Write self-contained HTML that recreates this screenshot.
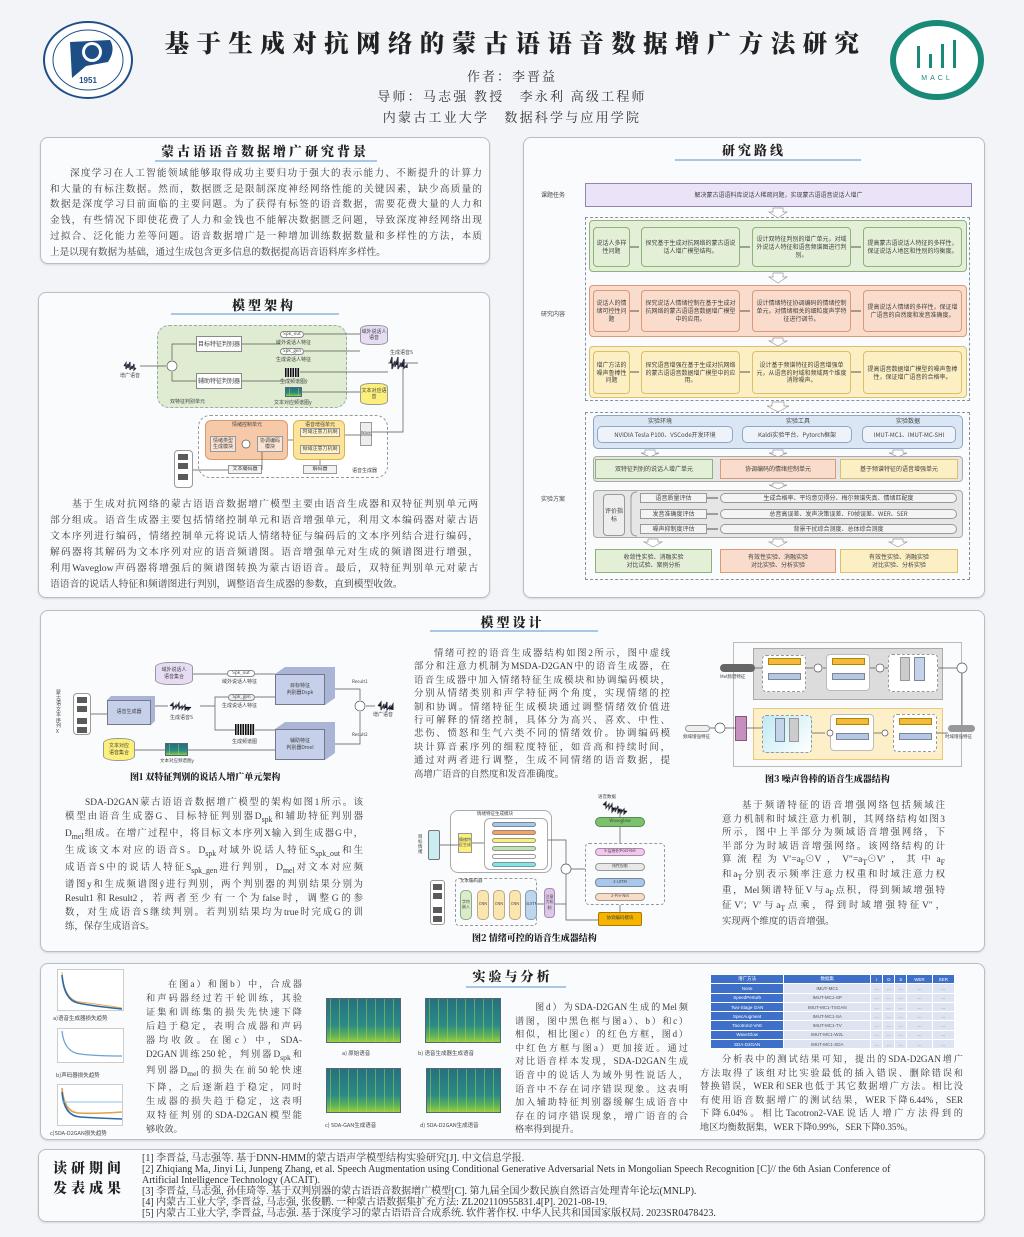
<!DOCTYPE html>
<html><head><meta charset="utf-8">
<style>
*{margin:0;padding:0;box-sizing:border-box}
body{width:1024px;height:1237px;background:#f2f4f8;position:relative;overflow:hidden;font-family:"Liberation Serif","Noto Serif CJK SC",serif;color:#333}
.a{position:absolute}
.panel{position:absolute;border:1px solid #b9bdc6;border-radius:8px;background:#fafbfd;box-shadow:0 1px 2px rgba(0,0,0,.12)}
.ttl{position:absolute;font-family:"Noto Serif CJK SC",serif;font-weight:900;font-size:13px;letter-spacing:3px;color:#222;text-align:center;white-space:nowrap}
.ul{position:absolute;height:2px;background:#a9c6e4}
.para{position:absolute;font-family:"Liberation Serif","Noto Serif CJK SC",serif;font-size:9.6px;color:#3a3a3a}
.para div{white-space:nowrap;text-align:justify;text-align-last:justify;overflow:hidden}
.para div.l{text-align-last:left}
.b{position:absolute;display:flex;align-items:center;justify-content:center;text-align:center;font-size:6px;line-height:1.3;overflow:hidden;color:#444;font-family:"Noto Sans CJK SC",sans-serif}
.lbl{position:absolute;font-size:6px;color:#444;font-family:"Noto Sans CJK SC",sans-serif;white-space:nowrap}
.cap{position:absolute;font-family:"Noto Serif CJK SC",serif;font-weight:900;font-size:9px;color:#222;white-space:nowrap}
.spec{position:absolute;background:
repeating-linear-gradient(90deg,rgba(0,0,0,0) 0 3px,rgba(190,220,60,.45) 3px 4px,rgba(0,0,0,0) 4px 9px),
linear-gradient(0deg,#9ccf40 0,#5fb25a 15%,#2a8a86 40%,#25707f 100%);border:1px solid #567}
.plot{position:absolute;background:#fff;border:1px solid #ccc}
table{border-collapse:collapse;font-size:4.5px;font-family:"Liberation Sans",sans-serif}
td{border:1px solid #fff;height:9.3px;text-align:center;color:#555;background:#dde3f1}
td.h{background:#3e6fc9;color:#fff}
.refs div{height:11px;line-height:11px;white-space:nowrap}
</style></head><body>

<svg class="a" style="left:0;top:0" width="1024" height="130">
 <ellipse cx="88" cy="60" rx="44" ry="38" fill="#fff" stroke="#1d4f86" stroke-width="2"/>
 <ellipse cx="88" cy="60" rx="35" ry="30" fill="none" stroke="#1d4f86" stroke-width="1"/>
 <path d="M70 42 L110 40 Q116 50 108 62 L86 66 L72 78 Z" fill="#1d4f86"/>
 <circle cx="92" cy="52" r="10" fill="#fff"/><circle cx="92" cy="52" r="7" fill="#1d4f86"/>
 <text x="88" y="83" font-size="8" font-weight="bold" text-anchor="middle" fill="#1d4f86" font-family="Liberation Sans">1951</text>
 <ellipse cx="937" cy="60" rx="44" ry="37" fill="#fff" stroke="#1a8a78" stroke-width="6"/>
 <g fill="#1a8a78"><rect x="917" y="46" width="3" height="22"/><rect x="929" y="54" width="3" height="14"/><rect x="941" y="44" width="3" height="24"/><rect x="953" y="40" width="3" height="28"/></g>
 <text x="937" y="80" font-size="7" text-anchor="middle" fill="#1a8a78" font-family="Liberation Sans" letter-spacing="3">MACL</text>
</svg>
<div class="a" style="left:0;width:1024px;top:25px;text-align:center;font-family:'Noto Serif CJK SC',serif;font-weight:900;font-size:24.5px;letter-spacing:7.4px;color:#222;padding-left:7px">基于生成对抗网络的蒙古语语音数据增广方法研究</div>
<div class="a" style="left:0;width:1024px;top:66px;text-align:center;font-size:13px;letter-spacing:2px;font-family:'Noto Serif CJK SC',serif;color:#333">作者：李晋益</div>
<div class="a" style="left:0;width:1024px;top:86px;text-align:center;font-size:13px;letter-spacing:2.2px;font-family:'Noto Serif CJK SC',serif;color:#333">导师：马志强 教授　李永利 高级工程师</div>
<div class="a" style="left:0;width:1024px;top:107px;text-align:center;font-size:13px;letter-spacing:2.2px;font-family:'Noto Serif CJK SC',serif;color:#333">内蒙古工业大学　数据科学与应用学院</div>

<div class="panel" style="left:40px;top:137px;width:450px;height:127px"></div>
<div class="ttl" style="left:40px;width:450px;top:141px">蒙古语语音数据增广研究背景</div>
<div class="ul" style="left:155px;top:160px;width:222px"></div>
<div class="para" style="left:50px;top:166px;width:432px;line-height:15.7px">
<div style="padding-left:20px">深度学习在人工智能领域能够取得成功主要归功于强大的表示能力、不断提升的计算力</div>
<div>和大量的有标注数据。然而，数据匮乏是限制深度神经网络性能的关键因素，缺少高质量的</div>
<div>数据是深度学习目前面临的主要问题。为了获得有标签的语音数据，需要花费大量的人力和</div>
<div>金钱，有些情况下即使花费了人力和金钱也不能解决数据匮乏问题，导致深度神经网络出现</div>
<div>过拟合、泛化能力差等问题。语音数据增广是一种增加训练数据数量和多样性的方法，本质</div>
<div class="l">上是以现有数据为基础，通过生成包含更多信息的数据提高语音语料库多样性。</div>
</div>

<div class="panel" style="left:38px;top:292px;width:452px;height:306px"></div>
<div class="ttl" style="left:38px;width:452px;top:295px">模型架构</div>
<div class="ul" style="left:171px;top:313px;width:168px"></div>
<div class="a" style="left:157px;top:325px;width:190px;height:83px;border:1px dashed #9aa;border-radius:12px;background:#dfecd2"></div>
<div class="b" style="left:196px;top:336px;width:46px;height:16px;background:#fff;border:1px solid #888">目标特征判别器</div>
<div class="b" style="left:196px;top:373px;width:46px;height:16px;background:#fff;border:1px solid #888">辅助特征判别器</div>
<div class="b" style="left:280px;top:331px;width:24px;height:7px;background:#fff;border:1px solid #888;border-radius:4px;font-size:4.5px">Spk_out</div>
<div class="lbl" style="left:276px;top:339px;font-size:5px">域外说话人特征</div>
<div class="b" style="left:280px;top:348px;width:24px;height:7px;background:#fff;border:1px solid #888;border-radius:4px;font-size:4.5px">Spk_gen</div>
<div class="lbl" style="left:276px;top:356px;font-size:5px">生成说话人特征</div>
<div class="a" style="left:285px;top:368px;width:15px;height:9px;background:repeating-linear-gradient(90deg,#111 0 1.5px,#ddd 1.5px 2.5px)"></div>
<div class="lbl" style="left:280px;top:378px;font-size:5px">生成频谱图ŷ</div>
<div class="spec" style="left:285px;top:387px;width:17px;height:10px"></div>
<div class="lbl" style="left:274px;top:399px;font-size:5px">文本对应频谱图y</div>
<div class="b" style="left:360px;top:325px;width:28px;height:20px;background:#e6dcf3;border:1px solid #999;border-radius:10px/4px;font-size:5px">域外说话人语音</div>
<div class="b" style="left:360px;top:383px;width:28px;height:22px;background:#fdf07a;border:1px solid #999;border-radius:10px/4px;font-size:5px">文本对应语音</div>
<div class="lbl" style="left:170px;top:398px;font-size:5px">双特征判别单元</div>
<div class="lbl" style="left:120px;top:372px;font-size:5px">增广语音</div>
<div class="lbl" style="left:390px;top:349px;font-size:5px">生成语音S</div>
<div class="a" style="left:198px;top:415px;width:190px;height:63px;border:1px dashed #999;border-radius:12px;background:#fff"></div>
<div class="a" style="left:205px;top:420px;width:83px;height:40px;background:#f6c9a8;border:1px solid #d79a70;border-radius:6px"></div>
<div class="lbl" style="left:232px;top:421px;font-size:5px">情绪控制单元</div>
<div class="b" style="left:210px;top:436px;width:26px;height:16px;background:#fbe3d3;border:1px solid #999;font-size:5px">情绪类型生成模块</div>
<div class="b" style="left:257px;top:436px;width:26px;height:16px;background:#fbe3d3;border:1px solid #999;font-size:5px">协调编码模块</div>
<div class="a" style="left:293px;top:420px;width:52px;height:40px;background:#fde49a;border:1px solid #d7b552;border-radius:6px"></div>
<div class="lbl" style="left:305px;top:421px;font-size:5px">语音增强单元</div>
<div class="b" style="left:300px;top:428px;width:40px;height:9px;background:#fff4cc;border:1px solid #999;font-size:5px">时域注意力机制</div>
<div class="b" style="left:300px;top:445px;width:40px;height:9px;background:#fff4cc;border:1px solid #999;font-size:5px">频域注意力机制</div>
<div class="b" style="left:360px;top:422px;width:12px;height:24px;background:#eee;border:1px solid #999;font-size:4px">Wave</div>
<div class="b" style="left:228px;top:465px;width:34px;height:9px;background:#f3f3f3;border:1px solid #999;font-size:5px">文本编码器</div>
<div class="b" style="left:303px;top:465px;width:34px;height:9px;background:#f3f3f3;border:1px solid #999;font-size:5px">解码器</div>
<div class="lbl" style="left:352px;top:467px;font-size:5px">语音生成器</div>
<div class="a" style="left:174px;top:450px;width:19px;height:38px;border:1px solid #999;border-radius:4px;background:#fff"></div>
<svg class="a" style="left:0;top:0" width="1024" height="1237">
 <g stroke="#555" stroke-width="0.7" fill="none">
  <path d="M140 366 H166 M172 360 V344 H196 M172 372 V381 H196 M242 344 H280 M242 381 H285 M304 334 H360 M304 351 H360 M300 372 H388 M302 392 H360 M388 363 H418 M403 366 V432 H372"/>
  <path d="M193 470 H228 M262 470 V452 M320 465 V460 M372 435 H345 M288 440 H293"/>
  <circle cx="172" cy="366" r="5" fill="#fff"/><circle cx="246" cy="444" r="4" fill="#fff"/>
 </g>
 <g stroke="#334" stroke-width="1.2"><path d="M124 366 l2 -3 v6 l2 -5 v4 l2 -6 v8 l2 -4 v3 l2 -5 v6 l2 -2 M390 363 l2 -6 v12 l3 -8 v6 l3 -10 v12 l3 -6 v4 l3 -8 v9 l3 -3 v3"/></g>
 <g fill="#5a5a5a"><rect x="178" y="454" width="10" height="6"/><rect x="178" y="463" width="10" height="6"/><rect x="178" y="474" width="10" height="6"/></g>
</svg>
<div class="para" style="left:50px;top:497px;width:428px;line-height:16px;font-size:9.8px">
<div style="padding-left:22px">基于生成对抗网络的蒙古语语音数据增广模型主要由语音生成器和双特征判别单元两</div>
<div>部分组成。语音生成器主要包括情绪控制单元和语音增强单元，利用文本编码器对蒙古语</div>
<div>文本序列进行编码，情绪控制单元将说话人情绪特征与编码后的文本序列结合进行编码，</div>
<div>解码器将其解码为文本序列对应的语音频谱图。语音增强单元对生成的频谱图进行增强，</div>
<div>利用Waveglow声码器将增强后的频谱图转换为蒙古语语音。最后，双特征判别单元对蒙古</div>
<div class="l">语语音的说话人特征和频谱图进行判别，调整语音生成器的参数，直到模型收敛。</div>
</div>

<div class="panel" style="left:523px;top:137px;width:462px;height:461px"></div>
<div class="ttl" style="left:523px;width:462px;top:140px">研究路线</div>
<div class="ul" style="left:675px;top:159px;width:186px"></div>
<div class="lbl" style="left:541px;top:190px">课题任务</div>
<div class="lbl" style="left:541px;top:309px">研究内容</div>
<div class="lbl" style="left:541px;top:494px">实验方案</div>
<div class="b" style="left:585px;top:183px;width:387px;height:24px;background:#ebe3f7;border:1px solid #8f86b0">解决蒙古语语料库说话人稀疏问题，实现蒙古语语音说话人增广</div>
<div class="a" style="left:585px;top:217px;width:385px;height:184px;border:1px dashed #8890a0"></div>
<div class="a" style="left:589px;top:220px;width:378px;height:52px;background:#e3efd7;border:1px solid #8fb27a;border-radius:4px"></div>
<div class="b" style="left:593px;top:227px;width:37px;height:40px;background:#e3efd7;border:1px solid #8fb27a;border-radius:4px">说话人多样性问题</div>
<div class="b" style="left:641px;top:227px;width:99px;height:40px;background:#e3efd7;border:1px solid #8fb27a;border-radius:4px;padding:2px">探究基于生成对抗网络的蒙古语说话人增广模型结构。</div>
<div class="b" style="left:752px;top:227px;width:99px;height:40px;background:#e3efd7;border:1px solid #8fb27a;border-radius:4px;padding:2px">设计双特征判别的增广单元，对域外说话人特征和语音频谱图进行判别。</div>
<div class="b" style="left:863px;top:227px;width:99px;height:40px;background:#e3efd7;border:1px solid #8fb27a;border-radius:4px;padding:2px">提高蒙古语说话人特征的多样性，保证说话人地区和性别的均衡度。</div>
<div class="a" style="left:589px;top:285px;width:378px;height:52px;background:#f9dccb;border:1px solid #d89a7a;border-radius:4px"></div>
<div class="b" style="left:593px;top:290px;width:37px;height:42px;background:#f9dccb;border:1px solid #d89a7a;border-radius:4px">说话人的情绪可控性问题</div>
<div class="b" style="left:641px;top:290px;width:99px;height:42px;background:#f9dccb;border:1px solid #d89a7a;border-radius:4px;padding:2px">探究说话人情绪控制在基于生成对抗网络的蒙古语语音数据增广模型中的应用。</div>
<div class="b" style="left:752px;top:290px;width:99px;height:42px;background:#f9dccb;border:1px solid #d89a7a;border-radius:4px;padding:2px">设计情绪特征协调编码的情绪控制单元，对情绪相关的细粒度声学特征进行调节。</div>
<div class="b" style="left:863px;top:290px;width:99px;height:42px;background:#f9dccb;border:1px solid #d89a7a;border-radius:4px;padding:2px">提高说话人情绪的多样性，保证增广语音的自然度和发音准确度。</div>
<div class="a" style="left:589px;top:346px;width:378px;height:52px;background:#fcefc4;border:1px solid #d8c070;border-radius:4px"></div>
<div class="b" style="left:593px;top:351px;width:37px;height:43px;background:#fcefc4;border:1px solid #d8c070;border-radius:4px">增广方法的噪声鲁棒性问题</div>
<div class="b" style="left:641px;top:351px;width:99px;height:43px;background:#fcefc4;border:1px solid #d8c070;border-radius:4px;padding:2px">探究语音增强在基于生成对抗网络的蒙古语语音数据增广模型中的应用。</div>
<div class="b" style="left:752px;top:351px;width:99px;height:43px;background:#fcefc4;border:1px solid #d8c070;border-radius:4px;padding:2px">设计基于频谱特征的语音增强单元，从语音的时域和频域两个维度消除噪声。</div>
<div class="b" style="left:863px;top:351px;width:99px;height:43px;background:#fcefc4;border:1px solid #d8c070;border-radius:4px;padding:2px">提高语音数据增广模型的噪声鲁棒性，保证增广语音的合格率。</div>
<div class="a" style="left:585px;top:412px;width:385px;height:168px;border:1px dashed #8890a0"></div>
<div class="a" style="left:593px;top:415px;width:370px;height:34px;background:#dbe6f4;border:1px solid #8ea6c8;border-radius:5px"></div>
<div class="lbl" style="left:648px;top:416px">实验环境</div><div class="lbl" style="left:786px;top:416px">实验工具</div><div class="lbl" style="left:896px;top:416px">实验数据</div>
<div class="b" style="left:597px;top:426px;width:136px;height:17px;background:#eef3fa;border:1px solid #8ea6c8;border-radius:5px">NVIDIA Tesla P100、VSCode开发环境</div>
<div class="b" style="left:742px;top:426px;width:110px;height:17px;background:#eef3fa;border:1px solid #8ea6c8;border-radius:5px">Kaldi实验平台、Pytorch框架</div>
<div class="b" style="left:862px;top:426px;width:94px;height:17px;background:#eef3fa;border:1px solid #8ea6c8;border-radius:5px">IMUT-MC1、IMUT-MC-SHI</div>
<div class="a" style="left:593px;top:456px;width:370px;height:26px;background:#e6e6e6;border:1px solid #aaa;border-radius:4px"></div>
<div class="b" style="left:595px;top:459px;width:118px;height:20px;background:#e3efd7;border:1px solid #8fb27a">双特征判别的说话人增广单元</div>
<div class="b" style="left:720px;top:459px;width:116px;height:20px;background:#f9dccb;border:1px solid #d89a7a">协调编码的情绪控制单元</div>
<div class="b" style="left:840px;top:459px;width:118px;height:20px;background:#fcefc4;border:1px solid #d8c070">基于频谱特征的语音增强单元</div>
<div class="a" style="left:593px;top:490px;width:370px;height:48px;background:#e6e6e6;border:1px solid #aaa;border-radius:4px"></div>
<div class="b" style="left:603px;top:494px;width:22px;height:42px;background:#eee;border:1px solid #999;border-radius:4px">评价指标</div>
<div class="b" style="left:640px;top:493px;width:67px;height:10px;background:#f4f4f4;border:1px solid #999">语音质量评估</div>
<div class="b" style="left:640px;top:509px;width:67px;height:10px;background:#f4f4f4;border:1px solid #999">发音准确度评估</div>
<div class="b" style="left:640px;top:524px;width:67px;height:10px;background:#f4f4f4;border:1px solid #999">噪声抑制度评估</div>
<div class="b" style="left:720px;top:493px;width:237px;height:10px;background:#f4f4f4;border:1px solid #999;border-radius:5px">生成合格率、平均意见得分、梅尔频谱失真、情绪匹配度</div>
<div class="b" style="left:720px;top:509px;width:237px;height:10px;background:#f4f4f4;border:1px solid #999;border-radius:5px">总音高误差、发声决策误差、F0帧误差、WER、SER</div>
<div class="b" style="left:720px;top:524px;width:237px;height:10px;background:#f4f4f4;border:1px solid #999;border-radius:5px">背景干扰综合测度、总体综合测度</div>
<div class="b" style="left:595px;top:549px;width:117px;height:24px;background:#e3efd7;border:1px solid #8fb27a">收敛性实验、消融实验<br>对比试验、案例分析</div>
<div class="b" style="left:720px;top:549px;width:116px;height:24px;background:#f9dccb;border:1px solid #d89a7a">有效性实验、消融实验<br>对比实验、分析实验</div>
<div class="b" style="left:840px;top:549px;width:118px;height:24px;background:#fcefc4;border:1px solid #d8c070">有效性实验、消融实验<br>对比实验、分析实验</div>
<svg class="a" style="left:0;top:0" width="1024" height="1237">
 <g fill="#fff" stroke="#999" stroke-width="0.7">
  <path d="M773 208 h10 v4 h4 l-9 6 l-9 -6 h4z"/><path d="M773 273 h10 v4 h4 l-9 6 l-9 -6 h4z"/><path d="M773 338 h10 v3 h4 l-9 5 l-9 -5 h4z"/><path d="M772 402 h12 v4 h5 l-11 6 l-11 -6 h5z"/>
  <path d="M645 450 h10 v3 h4 l-9 4 l-9 -4 h4z"/><path d="M773 450 h10 v3 h4 l-9 4 l-9 -4 h4z"/><path d="M893 450 h10 v3 h4 l-9 4 l-9 -4 h4z"/>
  <path d="M773 483 h10 v2 h4 l-9 4 l-9 -4 h4z"/>
  <path d="M648 539 h10 v3 h4 l-9 5 l-9 -5 h4z"/><path d="M773 539 h10 v3 h4 l-9 5 l-9 -5 h4z"/><path d="M893 539 h10 v3 h4 l-9 5 l-9 -5 h4z"/>
 </g>
 <g stroke="#222" stroke-width="0.8" fill="#222">
  <path d="M630 247 h9 M740 247 h10 M851 247 h10 M630 311 h9 M740 311 h10 M851 311 h10 M630 372 h9 M740 372 h10 M851 372 h10 M707 498 h11 M707 514 h11 M707 529 h11"/>
 </g>
 <path d="M637 492 q-6 0 -6 6 v32 q0 6 6 6" fill="none" stroke="#999"/>
</svg>

<div class="panel" style="left:40px;top:610px;width:945px;height:342px"></div>
<div class="ttl" style="left:40px;width:945px;top:612px">模型设计</div>
<div class="ul" style="left:430px;top:630px;width:168px"></div>
<div class="b" style="left:155px;top:662px;width:38px;height:23px;background:#e6dcf3;border:1px solid #999;border-radius:14px/5px;font-size:5px">域外说话人<br>语音集合</div>
<div class="a" style="left:73px;top:693px;width:18px;height:42px;border:1px solid #999;border-radius:4px;background:#fff"></div>
<div class="lbl" style="left:56px;top:690px;width:6px;font-size:5px;white-space:normal;line-height:1.1">蒙古语文本序列X</div>
<div class="b" style="left:107px;top:700px;width:44px;height:25px;background:#c7d0ea;border:1px solid #778;font-size:5px">语音生成器</div>
<div class="b" style="left:227px;top:670px;width:28px;height:7px;background:#fff;border:1px solid #888;border-radius:4px;font-size:4.5px">Spk_out</div>
<div class="lbl" style="left:222px;top:678px;font-size:5px">域外说话人特征</div>
<div class="b" style="left:228px;top:694px;width:27px;height:7px;background:#eee;border:1px solid #888;border-radius:4px;font-size:4.5px">Spk_gen</div>
<div class="lbl" style="left:222px;top:702px;font-size:5px">生成说话人特征</div>
<div class="a" style="left:235px;top:724px;width:20px;height:11px;background:repeating-linear-gradient(90deg,#111 0 1.5px,#ddd 1.5px 2.5px)"></div>
<div class="lbl" style="left:232px;top:738px;font-size:5px">生成频谱图</div>
<div class="lbl" style="left:170px;top:714px;font-size:5px">生成语音S</div>
<div class="b" style="left:275px;top:674px;width:50px;height:31px;background:#c7d0ea;border:1px solid #778;font-size:5px">目标特征<br>判别器Dspk</div>
<div class="b" style="left:275px;top:729px;width:50px;height:31px;background:#c7d0ea;border:1px solid #778;font-size:5px">辅助特征<br>判别器Dmel</div>
<div class="b" style="left:103px;top:738px;width:32px;height:23px;background:#fdf07a;border:1px solid #999;border-radius:14px/5px;font-size:5px">文本对应<br>语音集合</div>
<div class="spec" style="left:165px;top:743px;width:23px;height:13px"></div>
<div class="lbl" style="left:160px;top:758px;font-size:4.5px">文本对应频谱图y</div>
<div class="lbl" style="left:352px;top:679px;font-size:4.5px">Result1</div>
<div class="lbl" style="left:352px;top:732px;font-size:4.5px">Result2</div>
<div class="lbl" style="left:373px;top:711px;font-size:5px">增广语音</div>
<div class="cap" style="left:130px;top:770px">图1 双特征判别的说话人增广单元架构</div>
<div class="a" style="left:450px;top:810px;width:102px;height:63px;border:1px solid #aaa;border-radius:8px;background:#fff"></div>
<div class="lbl" style="left:477px;top:811px;font-size:4.5px">情绪特征生成模块</div>
<div class="a" style="left:428px;top:830px;width:12px;height:30px;background:#c9ecf2;border:1px solid #777;border-radius:2px"></div>
<div class="lbl" style="left:418px;top:835px;width:6px;font-size:4.5px;white-space:normal;line-height:1.1">目标情绪</div>
<div class="b" style="left:458px;top:833px;width:14px;height:20px;background:#fdf07a;border:1px solid #999;font-size:4px">情绪特征生成</div>
<div class="a" style="left:484px;top:818px;width:64px;height:52px;border:1px solid #aaa;border-radius:6px"></div>
<div class="a" style="left:492px;top:822px;width:44px;height:5px;background:#a9c7ea;border:1px solid #789;border-radius:3px"></div>
<div class="a" style="left:492px;top:830px;width:44px;height:5px;background:#f1a36c;border:1px solid #987;border-radius:3px"></div>
<div class="a" style="left:492px;top:838px;width:44px;height:5px;background:#f9ef7a;border:1px solid #998;border-radius:3px"></div>
<div class="a" style="left:492px;top:846px;width:44px;height:5px;background:#c3e1b2;border:1px solid #898;border-radius:3px"></div>
<div class="a" style="left:492px;top:854px;width:44px;height:5px;background:#fff;border:1px solid #999;border-radius:3px"></div>
<div class="a" style="left:492px;top:862px;width:44px;height:5px;background:#7fe5e8;border:1px solid #799;border-radius:3px"></div>
<div class="a" style="left:455px;top:878px;width:82px;height:48px;border:1px dashed #999;border-radius:4px"></div>
<div class="lbl" style="left:460px;top:878px;font-size:4.5px">文本编码器</div>
<div class="b" style="left:460px;top:890px;width:12px;height:30px;background:#dcecc9;border:1px solid #8a8;border-radius:5px;font-size:4px">字符嵌入</div>
<div class="b" style="left:477px;top:890px;width:12px;height:30px;background:#fbe6b0;border:1px solid #ba8;border-radius:5px;font-size:4px">CNN</div>
<div class="b" style="left:493px;top:890px;width:12px;height:30px;background:#fbe6b0;border:1px solid #ba8;border-radius:5px;font-size:4px">CNN</div>
<div class="b" style="left:509px;top:890px;width:12px;height:30px;background:#fbe6b0;border:1px solid #ba8;border-radius:5px;font-size:4px">CNN</div>
<div class="b" style="left:525px;top:890px;width:12px;height:30px;background:#bcd6ee;border:1px solid #89a;border-radius:5px;font-size:4px">BiLSTM</div>
<div class="b" style="left:544px;top:888px;width:11px;height:30px;background:#dcc8e6;border:1px solid #a8b;border-radius:4px;font-size:4px">注意力机制</div>
<div class="a" style="left:430px;top:880px;width:15px;height:45px;border:1px solid #999;border-radius:3px;background:#fff"></div>
<div class="lbl" style="left:598px;top:794px;font-size:4.5px">语音数据</div>
<div class="b" style="left:595px;top:817px;width:50px;height:10px;background:#7cc26a;border:1px solid #585;border-radius:5px;font-size:4.5px">Waveglow</div>
<div class="a" style="left:585px;top:843px;width:80px;height:62px;border:1px dashed #999;border-radius:4px"></div>
<div class="b" style="left:595px;top:848px;width:50px;height:8px;background:#f3c6ee;border:1px solid #a8a;border-radius:4px;font-size:4px">5-层卷积Post-Net</div>
<div class="b" style="left:595px;top:863px;width:50px;height:8px;background:#e8e8e8;border:1px solid #999;border-radius:4px;font-size:4px">线性投影</div>
<div class="b" style="left:595px;top:878px;width:50px;height:9px;background:#a9c7ea;border:1px solid #789;border-radius:4px;font-size:4px">2-LSTM</div>
<div class="b" style="left:595px;top:893px;width:50px;height:8px;background:#f8dcc8;border:1px solid #a98;border-radius:4px;font-size:4px">2-Pre-Net</div>
<div class="b" style="left:598px;top:912px;width:44px;height:14px;background:#f6b400;border:1px solid #a70;border-radius:2px;font-size:4.5px">协调编码模块</div>
<div class="cap" style="left:472px;top:931px">图2 情绪可控的语音生成器结构</div>
<div class="a" style="left:733px;top:642px;width:229px;height:125px;border:1px solid #bbb"></div>
<div class="a" style="left:753px;top:648px;width:190px;height:52px;background:#dcdcdc;border:1px solid #aaa"></div>
<div class="a" style="left:762px;top:655px;width:44px;height:37px;background:#fff;border:1px dashed #999;border-radius:4px"></div>
<div class="a" style="left:768px;top:658px;width:33px;height:7px;background:#f6b93b;border:1px solid #a80"></div>
<div class="a" style="left:768px;top:673px;width:33px;height:7px;background:#b8c6e6;border:1px solid #789"></div>
<div class="a" style="left:826px;top:654px;width:44px;height:37px;background:#fff;border:1px solid #bbb;border-radius:4px"></div>
<div class="a" style="left:832px;top:658px;width:33px;height:7px;background:#f6b93b;border:1px solid #a80"></div>
<div class="a" style="left:832px;top:673px;width:33px;height:7px;background:#b8c6e6;border:1px solid #789"></div>
<div class="a" style="left:888px;top:654px;width:50px;height:38px;background:#fff;border:1px dashed #999;border-radius:4px"></div>
<div class="a" style="left:900px;top:657px;width:10px;height:24px;background:#ccc;border:1px solid #999"></div>
<div class="a" style="left:914px;top:657px;width:11px;height:24px;background:#c4d2ea;border:1px solid #789"></div>
<div class="a" style="left:720px;top:664px;width:35px;height:8px;background:#666;border-radius:4px"></div>
<div class="lbl" style="left:720px;top:674px;font-size:4.5px">Mel频谱特征</div>
<div class="a" style="left:753px;top:708px;width:190px;height:52px;background:#fdf0c8;border:1px solid #e6c880"></div>
<div class="a" style="left:762px;top:715px;width:50px;height:38px;background:linear-gradient(135deg,#bfeaf4,#fff);border:1px dashed #999;border-radius:4px"></div>
<div class="a" style="left:775px;top:718px;width:10px;height:24px;background:#c4d2ea;border:1px solid #789"></div>
<div class="a" style="left:789px;top:718px;width:10px;height:24px;background:#ccc;border:1px solid #999"></div>
<div class="a" style="left:830px;top:714px;width:44px;height:37px;background:#fff;border:1px solid #bbb;border-radius:4px"></div>
<div class="a" style="left:836px;top:718px;width:33px;height:7px;background:#f6b93b;border:1px solid #a80"></div>
<div class="a" style="left:836px;top:733px;width:33px;height:7px;background:#b8c6e6;border:1px solid #789"></div>
<div class="a" style="left:893px;top:714px;width:44px;height:38px;background:#fff;border:1px dashed #999;border-radius:4px"></div>
<div class="a" style="left:899px;top:718px;width:33px;height:7px;background:#f6b93b;border:1px solid #a80"></div>
<div class="a" style="left:899px;top:733px;width:33px;height:7px;background:#b8c6e6;border:1px solid #789"></div>
<div class="a" style="left:735px;top:716px;width:12px;height:25px;background:#c58fc0;border:1px solid #857"></div>
<div class="a" style="left:685px;top:725px;width:25px;height:7px;background:#eee;border:1px solid #999;border-radius:4px"></div>
<div class="lbl" style="left:683px;top:734px;font-size:4.5px">频域增强特征</div>
<div class="a" style="left:948px;top:725px;width:27px;height:7px;background:#999;border-radius:4px"></div>
<div class="lbl" style="left:945px;top:734px;font-size:4.5px">时域增强特征</div>
<div class="cap" style="left:765px;top:772px">图3 噪声鲁棒的语音生成器结构</div>
<svg class="a" style="left:0;top:0" width="1024" height="1237">
 <g stroke="#555" stroke-width="0.7" fill="none">
  <path d="M193 674 H227 M255 674 H275 M91 714 H107 M151 706 H168 M200 706 H215 V697 H228 M215 706 V730 H235 M255 697 H275 M255 730 H275 M135 750 H165 M188 750 H275 M325 689 H360 V700 M325 744 H360 V712 M366 706 H375"/>
  <circle cx="360" cy="706" r="5" fill="#fff"/>
  <path d="M440 845 H458 M472 843 H484 M548 840 H566 V864 M537 904 H544 M555 904 H566 V874 M566 874 V920 H598 M571 869 H585 M620 912 V905 M620 843 V827 M620 817 V808"/>
  <circle cx="566" cy="869" r="5" fill="#fff"/>
  <path d="M755 668 H762 M806 668 H813 M823 668 H826 M870 668 H875 M885 668 H888 M938 668 H957 M710 728 H715 M725 728 H735 M747 728 H762 M812 733 H825 M874 733 H888 M937 733 H948 M962 673 V725"/>
  <circle cx="818" cy="668" r="4" fill="#fff"/><circle cx="880" cy="668" r="4" fill="#fff"/><circle cx="962" cy="668" r="5" fill="#fff"/><circle cx="720" cy="728" r="5" fill="#fff"/><circle cx="830" cy="733" r="3" fill="#fff"/><circle cx="885" cy="733" r="3" fill="#fff"/>
 </g>
 <g stroke="#334" stroke-width="1.1"><path d="M170 706 l3 -3 v6 l3 -4 v3 l3 -5 v6 l3 -3 v3 l3 -4 v5 l3 -2 v2 l3 -3 M378 706 l3 -4 v8 l3 -6 v5 l3 -7 v8 l3 -4 v3 l3 -5 v6 M603 805 l3 -3 v6 l3 -4 v5 l3 -5 v8 l3 -4 v4 l3 -6 v7 l3 -3 v3 l3 -4 v5 l3 -3"/></g>
 <g fill="#5a5a5a"><rect x="77" y="697" width="10" height="6"/><rect x="77" y="706" width="10" height="6"/><rect x="77" y="718" width="10" height="6"/><rect x="77" y="727" width="10" height="6"/><rect x="433" y="884" width="9" height="6"/><rect x="433" y="893" width="9" height="6"/><rect x="433" y="907" width="9" height="6"/><rect x="433" y="916" width="9" height="6"/></g>
 <g fill="#aab4d6"><path d="M151 700 l4 -4 v25 l-4 4z M107 700 l4 -4 h44 l-4 4z M325 674 l10 -7 v31 l-10 7z M275 674 l10 -7 h50 l-10 7z M325 729 l10 -7 v31 l-10 7z M275 729 l10 -7 h50 l-10 7z"/></g>
</svg>
<div class="para" style="left:65px;top:796px;width:298px;line-height:14px;font-size:9.4px">
<div style="padding-left:20px">SDA-D2GAN蒙古语语音数据增广模型的架构如图1所示。该</div>
<div>模型由语音生成器G、目标特征判别器D<sub>spk</sub>和辅助特征判别器</div>
<div>D<sub>mel</sub>组成。在增广过程中，将目标文本序列X输入到生成器G中，</div>
<div>生成该文本对应的语音S。D<sub>spk</sub>对域外说话人特征S<sub>spk_out</sub>和生</div>
<div>成语音S中的说话人特征S<sub>spk_gen</sub>进行判别，D<sub>mel</sub>对文本对应频</div>
<div>谱图y和生成频谱图ŷ进行判别，两个判别器的判别结果分别为</div>
<div>Result1和Result2，若两者至少有一个为false时，调整G的参</div>
<div>数，对生成语音S继续判别。若判别结果均为true时完成G的训</div>
<div class="l">练，保存生成语音S。</div>
</div>
<div class="para" style="left:414px;top:648px;width:256px;line-height:13.4px;font-size:9.4px">
<div style="padding-left:20px">情绪可控的语音生成器结构如图2所示，图中虚线</div>
<div>部分和注意力机制为MSDA-D2GAN中的语音生成器，在</div>
<div>语音生成器中加入情绪特征生成模块和协调编码模块，</div>
<div>分别从情绪类别和声学特征两个角度，实现情绪的控</div>
<div>制和协调。情绪特征生成模块通过调整情绪效价值进</div>
<div>行可解释的情绪控制，具体分为高兴、喜欢、中性、</div>
<div>悲伤、愤怒和生气六类不同的情绪效价。协调编码模</div>
<div>块计算音素序列的细粒度特征，如音高和持续时间，</div>
<div>通过对两者进行调整，生成不同情绪的语音数据，提</div>
<div class="l">高增广语音的自然度和发音准确度。</div>
</div>
<div class="para" style="left:722px;top:800px;width:223px;line-height:13.5px;font-size:9.4px">
<div style="padding-left:20px">基于频谱特征的语音增强网络包括频域注</div>
<div>意力机制和时域注意力机制，其网络结构如图3</div>
<div>所示，图中上半部分为频域语音增强网络，下</div>
<div>半部分为时域语音增强网络。该网络结构的计</div>
<div>算流程为V′=a<sub>F</sub>⊙V，V″=a<sub>T</sub>⊙V′，其中a<sub>F</sub></div>
<div>和a<sub>T</sub>分别表示频率注意力权重和时域注意力权</div>
<div>重，Mel频谱特征V与a<sub>F</sub>点积，得到频域增强特</div>
<div>征V′；V′与a<sub>T</sub>点乘，得到时域增强特征V″，</div>
<div class="l">实现两个维度的语音增强。</div>
</div>

<div class="panel" style="left:40px;top:963px;width:945px;height:177px"></div>
<div class="ttl" style="left:40px;width:945px;top:966px">实验与分析</div>
<div class="ul" style="left:466px;top:986px;width:100px"></div>
<div class="plot" style="left:57px;top:969px;width:67px;height:42px"></div>
<div class="plot" style="left:57px;top:1028px;width:67px;height:35px"></div>
<div class="plot" style="left:57px;top:1084px;width:66px;height:42px"></div>
<svg class="a" style="left:0;top:0" width="1024" height="1237">
 <g fill="none" stroke-width="1">
  <path d="M62 972 Q64 1000 80 1002 T122 1008" stroke="#e8a94a"/><path d="M62 975 Q64 1000 78 1003 T122 1009" stroke="#2f6aa8" stroke-width="1.6"/>
  <path d="M62 1031 Q64 1052 80 1054 T122 1056" stroke="#6aa2d6" stroke-width="1.3"/>
  <path d="M62 1088 Q64 1112 78 1113 T122 1112" stroke="#e0a050" stroke-width="1.6"/><path d="M62 1092 Q64 1116 80 1117 T122 1119" stroke="#2f6aa8" stroke-width="1.6"/><path d="M62 1102 H122" stroke="#8ac0e8"/>
 </g>
</svg>
<div class="lbl" style="left:53px;top:1014px;font-size:5.5px">a)语音生成器损失趋势</div>
<div class="lbl" style="left:56px;top:1071px;font-size:5.5px">b)声码器损失趋势</div>
<div class="lbl" style="left:50px;top:1129px;font-size:5.5px">c)SDA-D2GAN损失趋势</div>
<div class="para" style="left:146px;top:978px;width:156px;line-height:13.9px;font-size:9.2px">
<div style="padding-left:22px">在图a）和图b）中，合成器</div>
<div>和声码器经过若干轮训练，其验</div>
<div>证集和训练集的损失先快速下降</div>
<div>后趋于稳定，表明合成器和声码</div>
<div>器均收敛。在图c）中，SDA-</div>
<div>D2GAN训练250轮，判别器D<sub>spk</sub>和</div>
<div>判别器D<sub>mel</sub>的损失在前50轮快速</div>
<div>下降，之后逐渐趋于稳定，同时</div>
<div>生成器的损失趋于稳定，这表明</div>
<div>双特征判别的SDA-D2GAN模型能</div>
<div class="l">够收敛。</div>
</div>
<div class="spec" style="left:326px;top:998px;width:75px;height:45px"></div>
<div class="spec" style="left:425px;top:998px;width:76px;height:45px"></div>
<div class="spec" style="left:326px;top:1068px;width:75px;height:45px"></div>
<div class="spec" style="left:426px;top:1068px;width:75px;height:45px"></div>
<div class="lbl" style="left:342px;top:1049px;font-size:5.5px">a) 原始语音</div>
<div class="lbl" style="left:418px;top:1049px;font-size:5.5px">b) 语音生成器生成语音</div>
<div class="lbl" style="left:325px;top:1121px;font-size:5.5px">c) SDA-GAN生成语音</div>
<div class="lbl" style="left:420px;top:1121px;font-size:5.5px">d) SDA-D2GAN生成语音</div>
<div class="para" style="left:515px;top:1001px;width:173px;line-height:13.6px;font-size:9.2px">
<div style="padding-left:20px">图d）为SDA-D2GAN生成的Mel频</div>
<div>谱图，图中黑色框与图a）、b）和c）</div>
<div>相似，相比图c）的红色方框，图d）</div>
<div>中红色方框与图a）更加接近。通过</div>
<div>对比语音样本发现，SDA-D2GAN生成</div>
<div>语音中的说话人为域外男性说话人，</div>
<div>语音中不存在词序错误现象。这表明</div>
<div>加入辅助特征判别器缓解生成语音中</div>
<div>存在的词序错误现象，增广语音的合</div>
<div class="l">格率得到提升。</div>
</div>
<table class="a" style="left:710px;top:974px;width:245px">
<tr><td class="h">增广方法</td><td class="h">数据集</td><td class="h">I</td><td class="h">D</td><td class="h">S</td><td class="h">WER</td><td class="h">SER</td></tr>
<tr><td class="h">None</td><td>IMUT-MC1</td><td>…</td><td>…</td><td>…</td><td>…</td><td>…</td></tr>
<tr><td class="h">SpeedPerturb</td><td>IMUT-MC1-SP</td><td>…</td><td>…</td><td>…</td><td>…</td><td>…</td></tr>
<tr><td class="h">Two-Stage GAN</td><td>IMUT-MC1-TSGAN</td><td>…</td><td>…</td><td>…</td><td>…</td><td>…</td></tr>
<tr><td class="h">SpecAugment</td><td>IMUT-MC1-SA</td><td>…</td><td>…</td><td>…</td><td>…</td><td>…</td></tr>
<tr><td class="h">Tacotron2-VAE</td><td>IMUT-MC1-TV</td><td>…</td><td>…</td><td>…</td><td>…</td><td>…</td></tr>
<tr><td class="h">WaveGlow</td><td>IMUT-MC1-W2L</td><td>…</td><td>…</td><td>…</td><td>…</td><td>…</td></tr>
<tr><td class="h">SDA-D2GAN</td><td>IMUT-MC1-SDA</td><td>…</td><td>…</td><td>…</td><td>…</td><td>…</td></tr>
</table>
<div class="para" style="left:700px;top:1053px;width:263px;line-height:13.6px;font-size:9.2px">
<div style="padding-left:22px">分析表中的测试结果可知，提出的SDA-D2GAN增广</div>
<div>方法取得了该组对比实验最低的插入错误、删除错误和</div>
<div>替换错误，WER和SER也低于其它数据增广方法。相比没</div>
<div>有使用语音数据增广的测试结果，WER下降6.44%，SER</div>
<div>下降6.04%。相比Tacotron2-VAE说话人增广方法得到的</div>
<div class="l">地区均衡数据集，WER下降0.99%，SER下降0.35%。</div>
</div>

<div class="panel" style="left:38px;top:1149px;width:947px;height:73px"></div>
<div class="a" style="left:53px;top:1158px;font-family:'Noto Serif CJK SC',serif;font-weight:900;font-size:14px;letter-spacing:4px;line-height:20px;color:#222">读研期间<br>发表成果</div>
<div class="a refs" style="left:142px;top:1153px;font-size:10px;color:#333;font-family:'Liberation Serif','Noto Serif CJK SC',serif">
<div>[1] 李晋益, 马志强等. 基于DNN-HMM的蒙古语声学模型结构实验研究[J]. 中文信息学报.</div>
<div>[2] Zhiqiang Ma, Jinyi Li, Junpeng Zhang, et al. Speech Augmentation using Conditional Generative Adversarial Nets in Mongolian Speech Recognition [C]// the 6th Asian Conference of</div>
<div>Artificial Intelligence Technology (ACAIT).</div>
<div>[3] 李晋益, 马志强, 孙佳琦等. 基于双判别器的蒙古语语音数据增广模型[C]. 第九届全国少数民族自然语言处理青年论坛(MNLP).</div>
<div>[4] 内蒙古工业大学, 李晋益, 马志强, 张俊鹏. 一种蒙古语数据集扩充方法: ZL202110955831.4[P]. 2021-08-19.</div>
<div>[5] 内蒙古工业大学, 李晋益, 马志强. 基于深度学习的蒙古语语音合成系统. 软件著作权. 中华人民共和国国家版权局. 2023SR0478423.</div>
</div>
</body></html>
